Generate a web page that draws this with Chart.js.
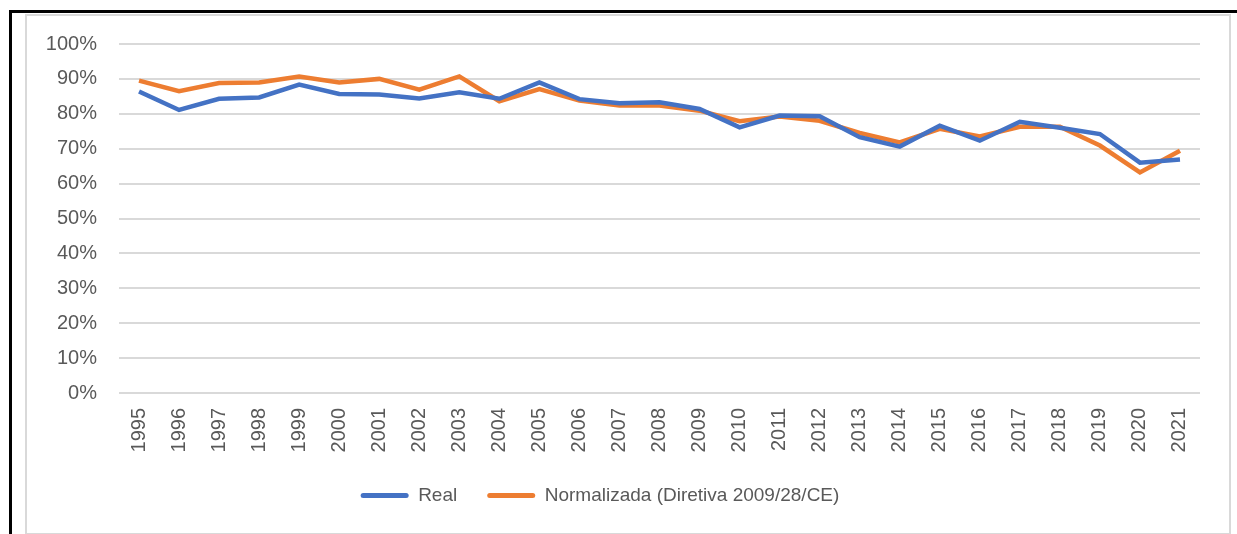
<!DOCTYPE html>
<html>
<head>
<meta charset="utf-8">
<script src="https://cdn.jsdelivr.net/npm/chart.js@4"></script>
<style>
  html, body { margin: 0; padding: 0; background: #fff; }
  #wrap { position: relative; width: 1237px; height: 534px; overflow: hidden; }
  #outer { position: absolute; left: 9px; top: 10px; width: 1300px; height: 600px;
           border-top: 3px solid #000; border-left: 3px solid #000; }
  #inner { position: absolute; left: 25px; top: 14px; width: 1202px; height: 517px;
           border: 2px solid #d9d9d9; }
  canvas { position: absolute; left: 0; top: 0; }
</style>
</head>
<body>
<div id="wrap">
  <div id="outer"></div>
  <div id="inner"></div>
  <canvas id="lineChart" width="1237" height="534"></canvas>
</div>
<script>
const years = ['1995', '1996', '1997', '1998', '1999', '2000', '2001', '2002', '2003',
  '2004', '2005', '2006', '2007', '2008', '2009', '2010', '2011', '2012', '2013',
  '2014', '2015', '2016', '2017', '2018', '2019', '2020', '2021'];

// valores em %
const real = [86.4, 81.1, 84.3, 84.7, 88.4, 85.7, 85.5, 84.4, 86.2,
  84.3, 89.0, 84.2, 83.0, 83.3, 81.4, 76.1, 79.5, 79.3, 73.3,
  70.6, 76.6, 72.3, 77.7, 76.0, 74.2, 66.0, 66.9];

const normalizada = [89.5, 86.5, 88.8, 89.0, 90.7, 89.0, 90.0, 86.9, 90.7,
  83.6, 87.1, 83.8, 82.4, 82.4, 80.9, 77.9, 79.2, 78.0, 74.5,
  71.8, 75.7, 73.5, 76.3, 76.3, 70.9, 63.2, 69.4];

const yTicks = [0, 10, 20, 30, 40, 50, 60, 70, 80, 90, 100];

const TEXT = '#595959';
const FONT = 'Liberation Sans, Arial, sans-serif';

new Chart(document.getElementById('lineChart'), {
  type: 'line',
  data: {
    labels: years,
    datasets: [
      {
        label: 'Real',
        data: real,
        borderColor: '#4472C4',
        backgroundColor: '#4472C4',
        borderWidth: 4.5,
        pointRadius: 0,
        tension: 0
      }, {
        label: 'Normalizada (Diretiva 2009/28/CE)',
        data: normalizada,
        borderColor: '#ED7D31',
        backgroundColor: '#ED7D31',
        borderWidth: 4.5,
        pointRadius: 0,
        tension: 0
      }
    ]
  },
  options: {
    responsive: false,
    animation: false,
    layout: { padding: { left: 0, right: 37, top: 44, bottom: 19 } },
    plugins: {
      tooltip: { enabled: false },
      legend: {
        position: 'bottom',
        labels: {
          color: TEXT,
          font: { family: FONT, size: 19 },
          boxWidth: 48,
          boxHeight: 5,
          useBorderRadius: true,
          borderRadius: 2.5,
          padding: 30,
          generateLabels: (chart) => chart.data.datasets.map((ds, i) => ({
            text: ds.label,
            fillStyle: ds.borderColor,
            strokeStyle: ds.borderColor,
            lineWidth: 0,
            borderRadius: 2.5,
            datasetIndex: i,
            fontColor: TEXT
          }))
        }
      }
    },
    scales: {
      x: {
        offset: true,
        grid: { display: false, drawTicks: false },
        border: { display: false },
        ticks: {
          color: TEXT,
          font: { family: FONT, size: 20 },
          minRotation: 90,
          maxRotation: 90,
          autoSkip: false,
          padding: 15
        },
        afterFit: (scale) => { scale.height = 63; }
      },
      y: {
        min: 0,
        max: 100,
        afterBuildTicks: (scale) => { scale.ticks = yTicks.map(v => ({ value: v })); },
        grid: { color: '#d9d9d9', lineWidth: 2, drawTicks: false },
        border: { display: false },
        ticks: {
          color: TEXT,
          font: { family: FONT, size: 20 },
          padding: 22,
          callback: (v) => v + '%'
        },
        afterFit: (scale) => { scale.width = 119; }
      }
    }
  }
});
</script>
</body>
</html>
